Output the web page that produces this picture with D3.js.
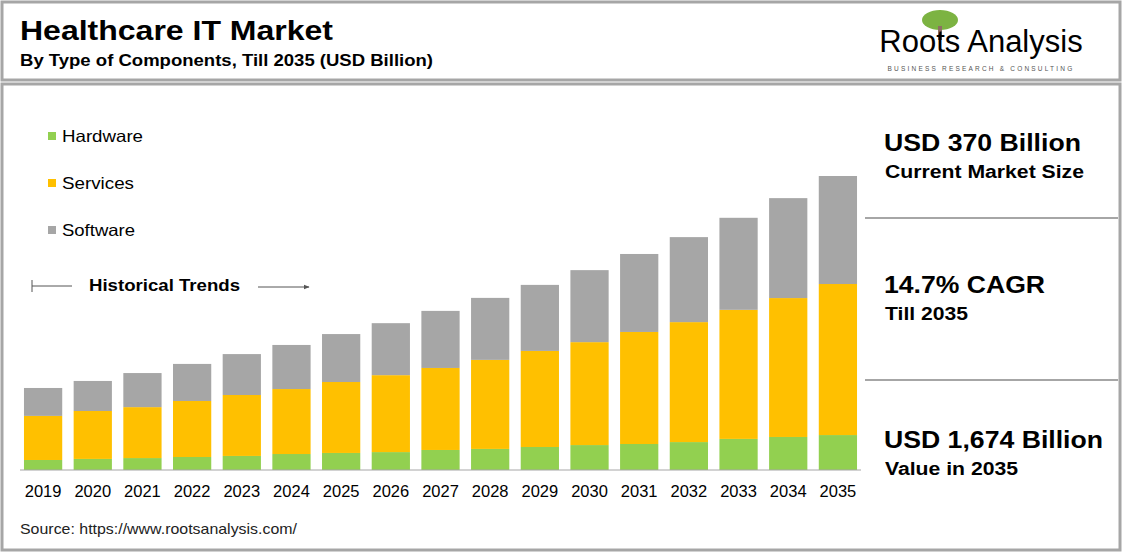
<!DOCTYPE html>
<html><head><meta charset="utf-8">
<script src="https://cdn.jsdelivr.net/npm/d3@7"></script>
<style>body{margin:0;background:#fff}text{font-family:Arial,"Liberation Sans",sans-serif}</style>
</head><body><svg id="c" width="1122" height="553"></svg>
<script>
const years=["2019","2020","2021","2022","2023","2024","2025","2026","2027","2028","2029","2030","2031","2032","2033","2034","2035"];
const hardware=[57,63,68,74,80,91,97,102,114,120,131,142,148,159,177,188,199];
const services=[251,273,290,319,347,370,404,438,467,507,547,586,638,683,735,791,860];
const software=[159,171,194,211,233,251,273,296,325,353,376,410,444,484,524,569,615];
const seriesNames=["Hardware","Services","Software"];
const colors=["#92d050","#ffc000","#a6a6a6"];

const svg=d3.select("#c");
function T(x,y,size,txt,len,bold){const t=svg.append("text").attr("x",x).attr("y",y).attr("font-size",size).text(txt);if(bold)t.attr("font-weight","bold");if(len)t.attr("textLength",len).attr("lengthAdjust","spacingAndGlyphs");return t;}
svg.append("rect").attr("x",2).attr("y",2).attr("width",1118).attr("height",78).attr("fill","none").attr("stroke","#a6a6a6").attr("stroke-width",3);
svg.append("rect").attr("x",2).attr("y",84).attr("width",1118).attr("height",466).attr("fill","none").attr("stroke","#a6a6a6").attr("stroke-width",3);
T(20,40,27,"Healthcare IT Market",313,true);
T(20,66,16,"By Type of Components,  Till 2035 (USD Billion)",413,true);
// logo
const lg=svg.append("g");
lg.append("ellipse").attr("cx",940).attr("cy",20).attr("rx",18).attr("ry",10).attr("fill","#7cb342");
lg.append("rect").attr("x",938).attr("y",26).attr("width",4).attr("height",14).attr("fill","#8d6e63");
lg.append("text").attr("x",981).attr("y",52).attr("text-anchor","middle").attr("font-family","Liberation Serif,serif").attr("font-size",31).text("Roots Analysis");
lg.append("text").attr("x",981).attr("y",71).attr("text-anchor","middle").attr("font-size",6.5).attr("letter-spacing",2.2).attr("fill","#555").text("BUSINESS RESEARCH & CONSULTING");

const x=d3.scaleBand().domain(years).range([20,861]).paddingInner(0.23).paddingOuter(0.08);
const y=d3.scaleLinear().domain([0,1674]).range([470,176]);
const rows=years.map((yr,i)=>({year:yr,Hardware:hardware[i],Services:services[i],Software:software[i]}));
const stack=d3.stack().keys(seriesNames)(rows);
svg.append("g").selectAll("g").data(stack).join("g").attr("fill",(d,i)=>colors[i])
 .selectAll("rect").data(d=>d).join("rect")
 .attr("x",d=>x(d.data.year)).attr("width",x.bandwidth())
 .attr("y",d=>y(d[1])).attr("height",d=>y(d[0])-y(d[1]));
const ax=svg.append("g").attr("transform","translate(0,470)").call(d3.axisBottom(x).tickSize(0).tickPadding(15));
ax.select(".domain").attr("stroke","#a6a6a6").attr("d","M20,0H861");
ax.selectAll("text").attr("font-size",16.5).attr("fill","#000").attr("font-family","Arial,Liberation Sans,sans-serif");

const legLens=[81,72,73];
seriesNames.forEach((n,i)=>{
 svg.append("rect").attr("x",48).attr("y",132+i*47).attr("width",8).attr("height",8).attr("fill",colors[i]);
 T(62,142+i*47,16.5,n,legLens[i]);
});
svg.append("line").attr("x1",32).attr("x2",32).attr("y1",280).attr("y2",292).attr("stroke","#555");
svg.append("line").attr("x1",32).attr("x2",72).attr("y1",286).attr("y2",286).attr("stroke","#555");
T(89,291,17,"Historical Trends",151,true);
svg.append("defs").append("marker").attr("id","ar").attr("viewBox","0 0 10 10").attr("refX",9).attr("refY",5).attr("markerWidth",6).attr("markerHeight",6).attr("orient","auto").append("path").attr("d","M0,1L10,5L0,9z").attr("fill","#555");
svg.append("line").attr("x1",258).attr("x2",309).attr("y1",287).attr("y2",287).attr("stroke","#555").attr("marker-end","url(#ar)");

const kp=[["USD 370 Billion","Current Market Size",151,197,199],["14.7% CAGR","Till 2035",293,161,83],["USD 1,674 Billion","Value in 2035",448,219,133]];
kp.forEach(k=>{
 T(884,k[2],24,k[0],k[3],true);
 T(885,k[2]+27,17.5,k[1],k[4],true);
});
[218,380].forEach(v=>svg.append("line").attr("x1",865).attr("x2",1118).attr("y1",v).attr("y2",v).attr("stroke","#a6a6a6").attr("stroke-width",2));
T(20,534,14.5,"Source: https://www.rootsanalysis.com/",277).attr("fill","#222");
</script></body></html>
